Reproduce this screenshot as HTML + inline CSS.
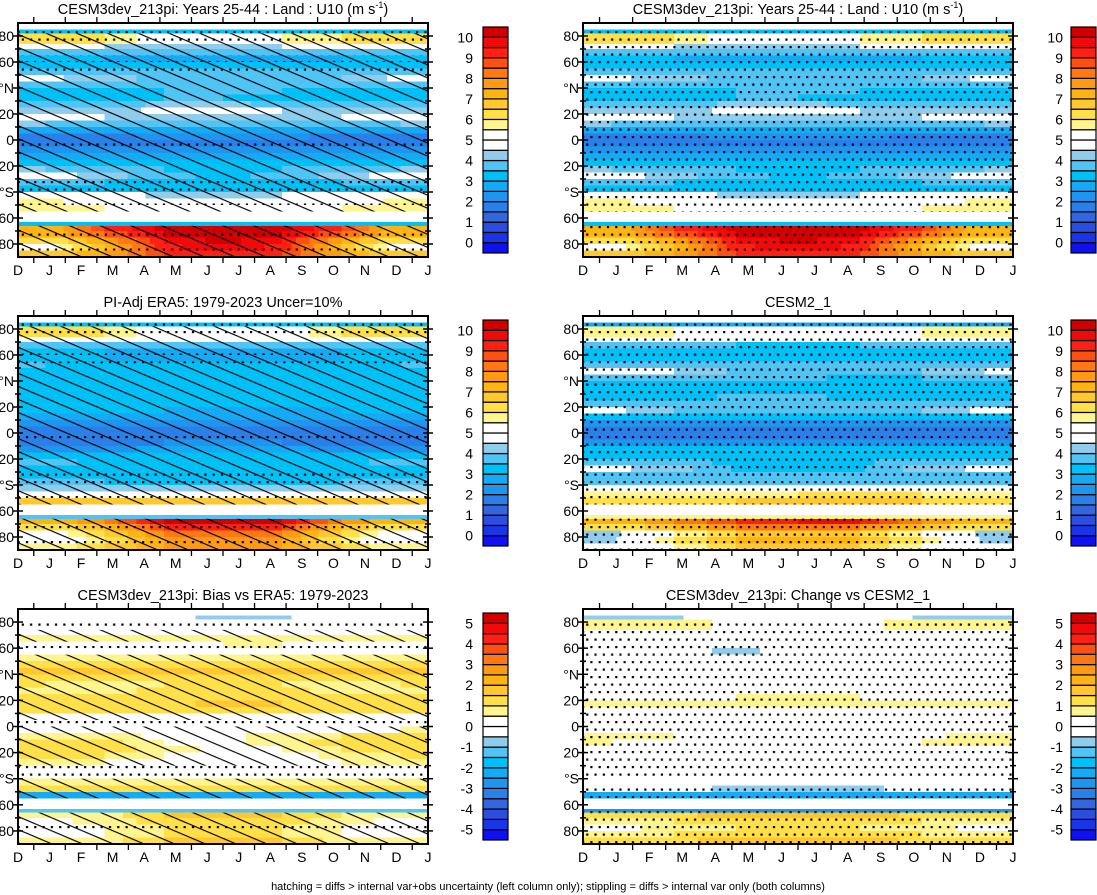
<!DOCTYPE html>
<html><head><meta charset="utf-8">
<style>
html,body{margin:0;padding:0;background:#fff;}
svg{display:block;font-family:"Liberation Sans",Arial,sans-serif;}
</style></head>
<body>
<svg id="fig" width="1097" height="895" viewBox="0 0 1097 895" xmlns="http://www.w3.org/2000/svg">
<defs>
<pattern id="hatch" patternUnits="userSpaceOnUse" width="12" height="12" patternTransform="rotate(23)">
<line x1="0" y1="0.5" x2="12" y2="0.5" stroke="#000" stroke-width="1.3"/>
</pattern>
<pattern id="stip" patternUnits="userSpaceOnUse" width="8.3" height="15">
<rect x="1" y="1" width="2.2" height="2.2" fill="#000"/>
<rect x="5.15" y="8.5" width="2.2" height="2.2" fill="#000"/>
</pattern>
</defs>
<g id="layer"></g>
<text x="548" y="890" font-size="11" text-anchor="middle">hatching = diffs &gt; internal var+obs uncertainty (left column only); stippling = diffs &gt; internal var only (both columns)</text>
</svg>
<script>
// latitude band edges (deg), top to bottom
const latEdges = [90,85,82,74,70,65,60,55,50,45,40,35,30,25,20,15,10,5,0,-5,-10,-15,-20,-25,-30,-35,-40,-45,-50,-55,-63,-66,-70,-75,-80,-85,-90];
const monthLabels = ["D","J","F","M","A","M","J","J","A","S","O","N","D","J"];
const latTickLabels = ["80","60","°N","20","0","20","°S","60","80"];
const latTickValues = [80,60,40,20,0,-20,-40,-60,-80];
const absBarLabels = ["0","1","2","3","4","5","6","7","8","9","10"];
const diffBarLabels = ["-5","-4","-3","-2","-1","0","1","2","3","4","5"];
const levelColors = ["#1010f5","#1a35e8","#2a4ee0","#3466e0","#2a80e8","#1e96f0","#14aaf5","#00c0f8","#50c4f4","#90ccec","#ffffff","#ffffff","#fff590","#ffe048","#ffc830","#ffb414","#ff9a14","#ff7814","#ff5014","#ff2014","#f00a0a","#d00000"];

const cesm3 = [
[5,5,5,5,5,5,5],[3,3,3,3.2,3,3,3],[6,6,5,5,5.5,6,6],[4.8,4.5,4.3,4.3,4.5,4.5,4.8],
[3.8,3.8,3.5,3.5,3.5,3.8,3.8],[3,3,2.8,2.8,2.8,3,3],[3.2,3.2,3,3,3,3.2,3.2],[3.8,3.5,3.5,3.5,3.5,3.5,3.8],
[4.6,4.2,3.8,3.8,3.8,4,4.6],[3.5,3.5,3.8,3.8,3.5,3.5,3.5],[3.2,3.2,3.5,3.5,3.5,3.2,3.2],[3,3,3.5,3.5,3,3,3],
[3.5,3.5,4.2,4.2,3.8,3.5,3.5],[4,4,4.8,5,4.5,4,4],[5,4.5,4,4,4,4.5,5],[4,3.8,3.5,3.5,3.5,3.8,4],
[2.5,2.5,2.5,2.5,2.5,2.5,2.5],[1.8,1.8,2.2,2.2,2.2,1.8,1.8],[1.8,1.8,1.8,1.8,1.8,1.7,1.8],[2.3,2.3,2.3,2.3,2.3,2.3,2.3],
[2.8,2.8,2.8,2.8,2.8,2.8,2.8],[3.3,3.3,3.3,3.3,3.3,3.3,3.3],[4,3.8,3.5,3.4,3.5,3.8,4],[4.8,4.2,3.6,3.4,3.6,4.2,4.8],
[3.5,3.5,3.4,3.4,3.4,3.5,3.5],[3,3,3,3,3,3,3],[5,5,4.3,4.3,4.5,5,5],[5.6,5.2,4.6,4.5,4.6,5.2,5.6],
[5.6,5.5,5,4.8,4.8,5.5,5.6],[5,5,5,5,5,5,5],[3.3,3.3,3.3,3.3,3.3,3.3,3.3],[7,9,10.2,10.3,10.2,9,7],
[7,8.5,10,10.3,10,8.5,7],[6,7.5,9.5,10.2,9.5,7.5,6],[5.2,7,9.3,10,9.3,7,5.2],[6.5,7.5,9,9.5,9,7.5,6.5]];

const era5 = [
[5,5,5,5,5,5,5],[3,3,3,3,3,3,3],[6,6,5,5,5,6,6],[4.6,4.5,4.5,4.5,4.5,4.5,4.6],
[3.8,3.8,3.6,3.6,3.6,3.8,3.8],[3,3,2.8,2.8,2.8,3,3],[3,3,2.7,2.7,2.8,3,3],[3.5,3.3,3.2,3.2,3.2,3.3,3.5],
[3.4,3.3,3.2,3.2,3.2,3.3,3.4],[3,3,3,3,3,3,3],[3,3,3,3,3,3,3],[3.3,3,3,3,3,3,3.3],
[3.4,3.2,3.2,3,3.2,3.2,3.4],[3.2,3,3,3,3,3,3.2],[3,3,3,2.8,2.8,3,3],[2.6,2.6,2.6,2.6,2.6,2.6,2.6],
[2.2,2.2,2.2,2.2,2.2,2.2,2.2],[1.8,1.8,1.8,1.8,1.8,1.8,1.8],[1.7,1.7,1.7,1.7,1.7,1.7,1.7],[1.8,1.8,2,2,2,1.8,1.8],
[2.4,2.4,2.6,2.6,2.6,2.4,2.4],[3,3,3,3,3,3,3],[3.6,3.4,3,3,3,3.4,3.6],[3.4,3.2,3,3,3,3.2,3.4],
[3.2,3,3,3,3,3,3.2],[3.6,3.5,3.4,3.4,3.4,3.5,3.6],[4.2,4,4,4,4,4,4.2],[5,5,4.6,4.5,4.6,5,5],
[6.8,6.5,6.5,6.5,6.5,6.5,6.8],[5,5,5,5,5,5,5],[3.5,3.5,3.5,3.5,3.5,3.5,3.5],[7,8,10,10.2,10,8,7],
[6,7,9,9.5,9,7,6],[5,6.5,8,8.5,8,6.5,5],[4.6,6,7.5,8,7.5,6,4.6],[5.5,6.5,7.5,7.5,7.5,6.5,5.5]];

const cesm2 = [
[5,5,5,5,5,5,5],[2.8,2.8,2.8,2.8,2.8,2.8,2.8],[5.6,5.5,5,4.8,5,5.5,5.6],[4.6,4.5,4.5,4.5,4.5,4.5,4.6],
[3.8,3.8,3.5,3.4,3.5,3.8,3.8],[3.4,3.4,3.2,3,3.2,3.4,3.4],[3.4,3.4,3.3,3.2,3.3,3.4,3.4],[3.8,3.8,3.6,3.6,3.6,3.8,3.8],
[4.5,4.5,3.9,3.8,3.8,4,4.5],[3.6,3.6,3.6,3.6,3.4,3.5,3.6],[3.4,3.4,3.4,3.4,3.4,3.4,3.4],[3,3,3.2,3.2,3,3,3],
[3.2,3.3,3.6,3.6,3.4,3.2,3.2],[3.5,3.5,3.8,3.8,3.8,3.5,3.5],[4.6,4,3.5,3.5,3.5,4,4.6],[3,3,3,3,3,3,3],
[2.3,2.3,2.3,2.3,2.3,2.3,2.3],[1.8,1.8,1.8,1.8,1.8,1.8,1.8],[1.7,1.7,1.8,1.8,1.8,1.7,1.7],[2.3,2.3,2.3,2.3,2.3,2.3,2.3],
[3,3,3,3,3,3,3],[3.3,3.3,3.3,3.3,3.3,3.3,3.3],[3.8,3.8,3.3,3.3,3.4,3.8,3.8],[4.6,4.2,3.4,3.3,3.4,4.2,4.6],
[3.6,3.6,3.5,3.5,3.5,3.6,3.6],[3.8,3.8,3.8,3.8,3.8,3.8,3.8],[5,5,4.8,4.8,4.8,5,5],[5.6,5.5,5.8,6,6.2,6,5.6],
[6,6,6.5,6.6,7,6.5,6],[5,5,5,5,5,5,5],[5.5,5.5,5.5,5.5,5.5,5.5,5.5],[7,8,9,9.5,9.5,8,7],
[6,7,8,8.5,8,7,6],[4.4,5.5,6.5,7,6.5,5.5,4.4],[4.4,6,7,7.5,7,6,4.4],[5,5.5,6.5,6.5,6.5,5.5,5]];

const bias = [
[0,0,0,0,0,0,0],[0,0,0,-1,-0.6,0,0],[0.3,0.3,0,0,0.3,0.5,0.3],[0.3,0.3,0.3,0.3,0.3,0.3,0.3],
[0.8,0.8,0.8,0.8,0.8,0.8,0.8],[0,0,0,0.5,0.5,0,0],[0,0,0,0,0,0,0],[0.7,0.7,0.7,0.7,0.7,0.7,0.7],
[1.2,1.2,1.2,1.2,1.2,1.2,1.2],[1.5,1.5,1.5,1.5,1.5,1.5,1.5],[1.2,1.2,1.2,1.2,1.2,1.2,1.2],[1,0.8,1,1.2,1,0.8,1],
[0.8,0.8,1.2,1.5,1.2,0.8,0.8],[1,1,1.2,1.5,1.2,1,1],[1.2,1.2,1.2,1.8,1.5,1.2,1.2],[1,1,1,1.5,1.2,1,1],
[0.3,0.3,0.3,0.3,0.3,0.3,0.3],[0,0,0,0,0,0,0],[0,0,0,0,0,0.3,0.5],[0.8,0.8,0.3,0.3,0.8,1,1],
[1.2,1.2,0.5,0.3,0.8,1.2,1.2],[1.2,1.2,0.8,0.3,0.5,1,1.2],[1,1,0.5,0,0,0.8,1],[0.5,0.5,0,0,0,0.5,0.5],
[0.3,0.3,0.3,0.3,0.3,0.3,0.3],[0.3,0.3,0.3,0.3,0.3,0.3,0.3],[0.8,0.8,0.8,0.8,0.8,0.8,0.8],[1,1,1,1,1,1,1],
[-2.5,-2.5,-2.5,-2.5,-2.5,-2.5,-2.5],[0,0,0,0,0,0,0],[-1.2,-1.2,-1.2,-1.2,-1.2,-1.2,-1.2],[0.8,0.8,1.5,1.5,1.5,1,0.8],
[0.3,0.8,1.2,1.5,1.2,0.8,0.3],[0,0.5,1,1.2,1,0.5,0],[0,0.5,1,1.5,1,0.5,0],[0.5,0.8,1.5,2,1.5,0.8,0.5]];

const change = [
[0,0,0,0,0,0,0],[-0.6,-0.6,0,0,0,-0.6,-0.6],[0.8,0.8,0.3,0,0.3,0.8,0.8],[0,0,0,0,0,0,0],
[0,0,0,0,0,0,0],[0,0,0,0,0,0,0],[0,0,-0.8,0,0,0,0],[0,0,0,0,0,0,0],
[0,0,0,0,0,0,0],[0,0,0,0,0,0,0],[0,0,0,0,0,0,0],[0,0,0,0,0,0,0],
[0,0,0,0,0,0,0],[0.3,0.3,0.5,0.8,0.5,0.3,0.3],[0.8,0.5,0.8,0.8,0.5,0.5,0.8],[0,0,0,0,0,0,0],
[0,0,0,0,0,0,0],[0,0,0,0,0,0,0],[0,0,0,0,0,0,0],[0.8,0.5,0,0,0,0.3,0.8],
[0.5,0.3,0,0,0,0.5,0.5],[0,0,0,0,0,0,0],[0,0,0,0,0,0,0],[0,0,0,0,0,0,0],
[0,0,0,0,0,0,0],[0,0,0,0,0,0,0],[0,0,0,0,0,0,0],[0,0,-0.8,-0.9,-0.8,0,0],
[-2.2,-2.2,-2.2,-2.2,-2.2,-2.2,-2.2],[0,0,0,0,0,0,0],[-2.6,-2.6,-2.6,-2.6,-2.6,-2.6,-2.6],[1.2,1.3,1.8,1.8,1.8,1.3,1.2],
[0.8,1,1.3,1.3,1.3,1,0.8],[0.3,0.8,1,1.3,1,0.8,0.3],[0.8,1,1.3,1.5,1.3,1,0.8],[1.2,1.3,1.8,2,1.8,1.3,1.2]];

// significance masks per latitude band (1 = drawn)
const hatchCesm3 = [0,0,1,1,1,1,1,1,1,1,1,1,1,1,1,1,1,1,1,1,1,1,1,1,1,1,1,1,1,0,0,1,1,1,1,1];
const stipCesm3  = [0,1,1,0,0,1,0,1,0,0,0,0,0,0,0,0,0,0,1,0,0,0,0,0,1,1,0,1,0,0,0,0,1,0,1,0];
const hatchEra5  = [0,0,1,1,1,1,1,1,1,1,1,1,1,1,1,1,1,1,1,1,1,1,1,1,1,1,1,1,1,0,0,1,1,1,1,1];
const stipEra5   = [0,1,1,0,0,1,0,1,0,0,0,0,0,0,0,0,0,0,1,0,0,0,0,0,1,1,0,1,0,0,0,0,1,0,1,0];
const hatchBias  = [0,0,0,1,1,0,0,1,1,1,1,1,1,1,1,1,1,0,1,1,1,1,1,1,0,0,1,1,1,0,0,1,1,1,1,1];
const stipBias   = [0,0,1,0,0,1,0,0,0,0,0,0,0,0,0,0,0,1,0,0,0,0,0,0,1,1,0,0,0,0,0,0,0,1,0,0];
const stipAllAbs = [0,1,1,1,1,1,1,1,1,1,1,1,1,1,1,1,1,1,1,1,1,1,1,1,1,1,1,1,1,0,1,1,1,1,1,1];
const stipChange = [0,0,1,1,1,1,1,1,1,1,1,1,1,1,1,1,1,1,1,1,1,1,1,1,1,1,0,1,1,0,1,1,1,1,1,1];

const NS="http://www.w3.org/2000/svg";
const layer=document.getElementById('layer');
function mk(tag,attrs,parent){const e=document.createElementNS(NS,tag);for(const k in attrs)e.setAttribute(k,attrs[k]);(parent||layer).appendChild(e);return e;}

const panels=[
 {name:"cesm3-left",data:cesm3,hatch:hatchCesm3,stip:stipCesm3,x0:18,x1:428,y0:23,y1:257,bx:483,lx:473,diff:false,title:"CESM3dev_213pi: Years 25-44 : Land : U10 (m s",sup:true},
 {name:"cesm3-right",data:cesm3,hatch:null,stip:stipAllAbs,x0:583,x1:1013,y0:23,y1:257,bx:1071,lx:1063,diff:false,title:"CESM3dev_213pi: Years 25-44 : Land : U10 (m s",sup:true},
 {name:"era5",data:era5,hatch:hatchEra5,stip:stipEra5,x0:18,x1:428,y0:316,y1:550,bx:483,lx:473,diff:false,title:"PI-Adj ERA5: 1979-2023 Uncer=10%"},
 {name:"cesm2",data:cesm2,hatch:null,stip:stipAllAbs,x0:583,x1:1013,y0:316,y1:550,bx:1071,lx:1063,diff:false,title:"CESM2_1"},
 {name:"bias",data:bias,hatch:hatchBias,stip:stipBias,x0:18,x1:428,y0:609,y1:844,bx:483,lx:473,diff:true,title:"CESM3dev_213pi: Bias vs ERA5: 1979-2023"},
 {name:"change",data:change,hatch:null,stip:stipChange,x0:583,x1:1013,y0:609,y1:844,bx:1071,lx:1063,diff:true,title:"CESM3dev_213pi: Change vs CESM2_1"}
];

function levelIndex(v,diff){const base=diff?-5:0;let i=Math.floor((v-base)/0.5)+1;return Math.max(0,Math.min(21,i));}

panels.forEach(p=>{
 const g=mk('g',{});
 
 
 const W=p.x1-p.x0,H=p.y1-p.y0;
 const yOf=lat=>p.y0+(90-lat)/180*H;
 const xOf=t=>p.x0+t*W;
 const NC=90;
 const nb=p.data[0].length;
 const cells=mk('g',{'shape-rendering':'crispEdges'},g);
 
 
 for(let r=0;r<p.data.length;r++){
  const row=p.data[r];
  const ya=yOf(latEdges[r]),yb=yOf(latEdges[r+1]);
  let runStart=0,runIdx=-1;
  const flush=(endC)=>{ if(runIdx<0)return;
    const rc=mk('rect',{x:xOf(runStart/NC).toFixed(2),y:ya.toFixed(2),width:(xOf(endC/NC)-xOf(runStart/NC)+0.6).toFixed(2),height:(yb-ya+0.6).toFixed(2),fill:levelColors[runIdx]},cells);
    
    
  };
  for(let c=0;c<NC;c++){
   const t=(c+0.5)/NC*nb-0.5;
   let v;
   if(t<=0)v=row[0];else if(t>=nb-1)v=row[nb-1];else{const k=Math.floor(t),f=t-k;v=row[k]*(1-f)+row[k+1]*f;}
   const idx=levelIndex(v,p.diff);
   if(idx!==runIdx){flush(c);runStart=c;runIdx=idx;}
  }
  flush(NC);
  if(p.hatch&&p.hatch[r]){const h=mk('rect',{x:p.x0,y:ya,width:W,height:yb-ya,fill:'url(#hatch)'},g);}
  if(p.stip&&p.stip[r]){const s=mk('rect',{x:p.x0,y:ya,width:W,height:yb-ya,fill:'url(#stip)'},g);}
 }
 const fr=mk('rect',{x:p.x0,y:p.y0,width:W,height:H,fill:'none',stroke:'#000','stroke-width':2},g);
 
 
 for(let lat=-80;lat<=80;lat+=10){
  const y=yOf(lat);const major=(lat%20===0);const L=major?5:3;
  mk('line',{x1:p.x0-L,y1:y,x2:p.x0+L,y2:y,stroke:'#000','stroke-width':1.5},g);
  mk('line',{x1:p.x1-L,y1:y,x2:p.x1+L,y2:y,stroke:'#000','stroke-width':1.5},g);
 }
 latTickValues.forEach((lat,i)=>{
  const t=mk('text',{x:p.x0-4,y:yOf(lat)+5,'font-size':14,'text-anchor':'end'},g);
  t.textContent=latTickLabels[i];
  
  
 });
 const n=monthLabels.length-1;
 for(let i=0;i<n;i++){
  const x=xOf((i+0.5)/n);
  mk('line',{x1:x,y1:p.y1,x2:x,y2:p.y1+6,stroke:'#000','stroke-width':1.3},g);
  mk('line',{x1:x,y1:p.y0-6,x2:x,y2:p.y0,stroke:'#000','stroke-width':1.3},g);
 }
 monthLabels.forEach((m,i)=>{
  const t=mk('text',{x:xOf(i/n),y:p.y1+18,'font-size':14,'text-anchor':'middle'},g);
  t.textContent=m;
  
  
 });
 const tt=mk('text',{x:(p.x0+p.x1)/2,y:p.y0-9,'font-size':14.5,'text-anchor':'middle'},g);
 
 
 if(p.sup){
  tt.appendChild(document.createTextNode(p.title));
  const s=document.createElementNS(NS,'tspan');s.setAttribute('dy','-6');s.setAttribute('font-size','9');s.textContent='-1';tt.appendChild(s);
  const s2=document.createElementNS(NS,'tspan');s2.setAttribute('dy','6');s2.textContent=')';tt.appendChild(s2);
 } else tt.textContent=p.title;
 const cb=mk('g',{},g);
 
 
 const by0=p.y0+4,by1=p.y1-4,bh=(by1-by0)/levelColors.length;
 levelColors.forEach((c,i)=>{
  const y=by1-(i+1)*bh;
  const b=mk('rect',{x:p.bx,y:y,width:25,height:bh,fill:c,stroke:'#000','stroke-width':1.2},cb);
  
  
 });
 const labs=p.diff?diffBarLabels:absBarLabels;
 labs.forEach((l,i)=>{
  const y=by1-(1+2*i)*bh;
  const t=mk('text',{x:p.lx,y:y+5,'font-size':14,'text-anchor':'end'},cb);
  t.textContent=l;
  
  
 });
});
</script>
</body></html>
